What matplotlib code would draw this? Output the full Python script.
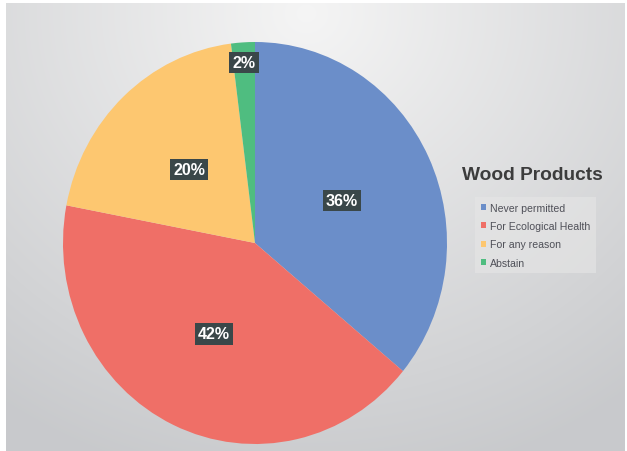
import matplotlib.pyplot as plt
import numpy as np

categories = ["Never permitted", "For Ecological Health", "For any reason", "Abstain"]
shares = [36, 42, 20, 2]
colors = ["#6b8ec9", "#ef6f67", "#fdc770", "#4fbd80"]
title = "Wood Products"

plt.rcParams["font.family"] = ["Liberation Sans", "DejaVu Sans"]

W, H = 627, 452
fig = plt.figure(figsize=(W / 100, H / 100), dpi=100)
fig.patch.set_facecolor("white")

# gray radial gradient background (leaves a thin white strip left/top)
bg = fig.add_axes([6 / W, 0, (W - 8) / W, (H - 4) / H])
yy, xx = np.mgrid[0:H - 4, 0:W - 8]
d = np.sqrt(((xx - 300) / 1.1) ** 2 + (yy - 10) ** 2) / 480
d = np.clip(d, 0, 1)
top = np.array([0.96, 0.96, 0.96])
bot = np.array([0.785, 0.79, 0.80])
img = top[None, None, :] * (1 - d[..., None]) + bot[None, None, :] * d[..., None]
bg.imshow(img, aspect="auto", interpolation="bilinear")
bg.axis("off")

# pie axes
cx, cy, rx, ry = 255, 244, 192, 201
ax = fig.add_axes([(cx - rx) / W, (H - cy - ry) / H, 2 * rx / W, 2 * ry / H])
wedges, texts, autotexts = ax.pie(
    shares, colors=colors, startangle=90, counterclock=False,
    autopct="%d%%", pctdistance=0.5, wedgeprops=dict(linewidth=0),
    textprops=dict(color="white", fontsize=11.5, fontweight="bold"))
ax.set_aspect("auto")
ax.set_xlim(-1, 1)
ax.set_ylim(-1, 1)
ax.axis("off")

for w, t in zip(wedges, autotexts):
    t.set_bbox(dict(boxstyle="square,pad=0.2", facecolor="#3a4749", edgecolor="none"))
    if w.theta2 - w.theta1 < 10:
        ang = np.deg2rad((w.theta1 + w.theta2) / 2)
        t.set_position((0.9 * np.cos(ang), 0.9 * np.sin(ang)))

fig.text(462 / W, 1 - 175 / H, title, fontsize=13.8, fontweight="bold",
         color="#3c3c3c", va="center", ha="left")

leg = fig.legend(wedges, categories, loc="upper left",
                 bbox_to_anchor=(470 / W, 1 - 193 / H), fontsize=7.6,
                 frameon=True, facecolor="#e6e6e6", edgecolor="none",
                 framealpha=0.6, fancybox=False, handlelength=0.55,
                 handleheight=0.55, handletextpad=0.35, labelspacing=0.8,
                 borderpad=0.5)
for t in leg.get_texts():
    t.set_color("#4f5058")

fig.savefig("out.png", dpi=100)
